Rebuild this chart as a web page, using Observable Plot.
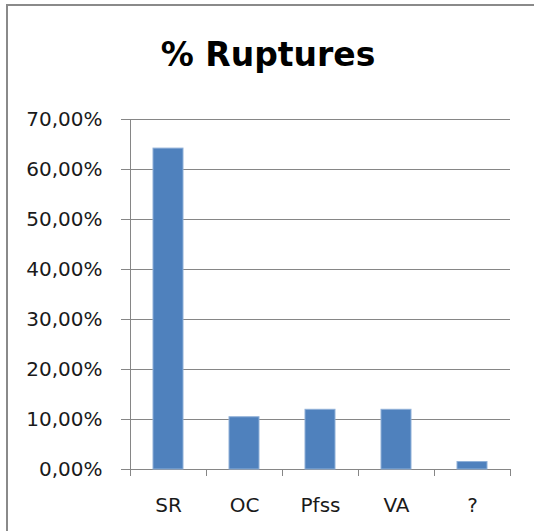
<!DOCTYPE html>
<html>
<head>
<meta charset="utf-8">
<script src="https://cdn.jsdelivr.net/npm/d3@7"></script>
<script src="https://cdn.jsdelivr.net/npm/@observablehq/plot@0.6"></script>
<style>
  html, body { margin: 0; padding: 0; background: #fff; }
  #wrap { position: relative; width: 534px; height: 531px; overflow: hidden; }
  #border { position: absolute; left: 6px; top: 4px; width: 600px; height: 600px;
            border-left: 2px solid #8a8a8a; border-top: 2px solid #8a8a8a; }
  #title { position: absolute; left: 0; top: 35px; width: 536px; text-align: center;
           font-family: "DejaVu Sans", sans-serif; font-weight: bold; font-size: 33px;
           color: #000; line-height: 40px; }
  #chart { position: absolute; left: 0; top: 0; }
</style>
</head>
<body>
<div id="wrap">
  <div id="border"></div>
  <div id="chart"></div>
  <div id="title">% Ruptures</div>
</div>
<script>
const categories = ["SR", "OC", "Pfss", "VA", "?"];
const shares = [0.6418, 0.1045, 0.1194, 0.1194, 0.0149];
const yTicks = [0, 0.1, 0.2, 0.3, 0.4, 0.5, 0.6, 0.7];
const xBoundaries = [0, 1, 2, 3, 4, 5];

const data = categories.map((c, i) => ({c, i, v: shares[i]}));
const fmt = d => (d * 100).toFixed(2).replace(".", ",") + "%";
const gray = "#868686";

const chart = Plot.plot({
  width: 534,
  height: 531,
  marginLeft: 130,
  marginRight: 24,
  marginTop: 119,
  marginBottom: 62,
  style: {fontFamily: "DejaVu Sans, sans-serif", fontSize: "20px", color: "#1a1a1a", background: "transparent"},
  x: {domain: [0, 5], axis: null, label: null},
  y: {domain: [0, 0.7], axis: null, label: null},
  marks: [
    Plot.gridY(yTicks, {stroke: gray, strokeOpacity: 1}),
    Plot.axisY(yTicks, {tickSize: 9, tickPadding: 19, stroke: gray, tickFormat: fmt, fontSize: 20, label: null}),
    Plot.axisX(xBoundaries, {tickSize: 7, stroke: gray, tickFormat: () => "", label: null}),
    Plot.ruleX([0], {y1: 0, y2: 0.7, stroke: gray}),
    Plot.rectY(data, {x1: "i", x2: d => d.i + 1, y: "v", insetLeft: 23, insetRight: 23,
                      fill: "#4F81BD", stroke: "#8fb0d8", strokeWidth: 1}),
    Plot.text(data, {x: d => d.i + 0.5, y: 0, text: "c", dy: 36, fontSize: 20, fill: "#1a1a1a"})
  ]
});
document.getElementById("chart").appendChild(chart);
</script>
</body>
</html>
